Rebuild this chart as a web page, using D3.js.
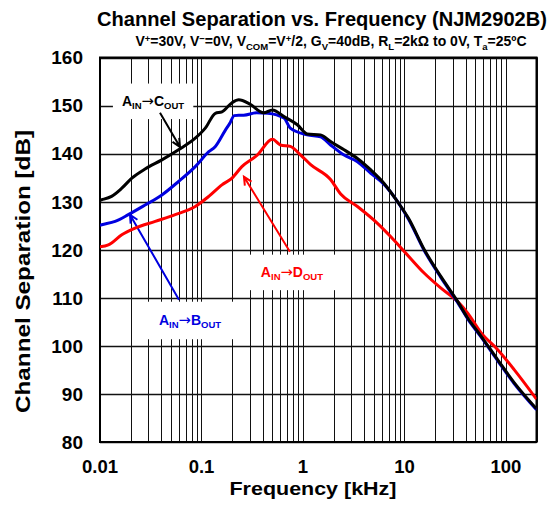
<!DOCTYPE html>
<html><head><meta charset="utf-8">
<script src="https://cdn.jsdelivr.net/npm/d3@7"></script>
<style>body{margin:0;background:#fff}svg{display:block;font-family:"Liberation Sans",Arial,sans-serif}</style>
</head><body><svg id="c" width="557" height="506"></svg>
<script>
// ---- data ----
const freqAC = [0.01,0.0104,0.013,0.0164,0.0206,0.0278,0.0407,0.0594,0.0868,0.109,0.137,0.159,0.2,0.233,0.3,0.41,0.5,0.65,0.88,1.1,1.49,1.87,2.54,3.44,4.66,6.3,8.55,11,15.7,22.9,33.5,42,57,83,121,200];
const sepAC  = [130.3,130.4,131.1,132.8,134.9,136.8,138.7,140.8,143.2,145.3,148.4,148.7,150.6,151.2,150.3,148.5,149.1,147.7,146,144.1,143.9,142.5,140.8,139,136.6,133.8,130,126.5,120,114.4,109.2,105.8,102,97.1,92.3,86.9];
const freqAB = [0.01,0.0104,0.0141,0.019,0.0278,0.0407,0.0594,0.0868,0.118,0.137,0.172,0.19,0.21,0.233,0.26,0.35,0.45,0.65,0.75,1.1,1.49,1.87,2.54,3.44,4.66,6.3,8.55,11,15.7,22.9,33.5,42,57,83,121,200];
const sepAB  = [125.1,125.2,125.9,127.3,129.3,131.4,134.2,137.3,140.4,141.5,144.9,146.3,147.9,148.0,148.0,148.5,148.4,147.4,145.3,143.9,143.5,141.8,139.7,138.3,135.9,133.6,130,126.3,119.8,114.2,109.0,105.6,101.8,96.9,92.1,86.7];
const freqAD = [0.01,0.0121,0.0164,0.0222,0.035,0.0551,0.0868,0.118,0.159,0.2,0.25,0.354,0.5,0.6,0.75,0.95,1.19,1.87,2.35,3.44,5.42,7.34,10.3,15.7,22.9,33.5,42,57,83,121,200];
const sepAD  = [120.6,121.0,123.1,124.5,125.9,127.3,129.0,131.1,133.5,134.9,137.3,139.7,143.0,141.8,141.5,139.7,137.7,134.6,131.6,129.0,125.5,122.7,119.3,115.1,112,109.2,106.8,102.7,99.2,95.0,88.9];
const xTickVals = [0.01,0.1,1,10,100];
const xTickLabels = ["0.01","0.1","1","10","100"];
const yTickVals = [80,90,100,110,120,130,140,150,160];

const svg = d3.select("#c");
const L=100,R=536.5,T=57.5,B=442;
const x = d3.scaleLog().domain([0.01,200]).range([L,R]);
const y = d3.scaleLinear().domain([80,160]).range([B,T]);

// grid
const minor=[];
[0.01,0.1,1,10,100].forEach(d=>{for(let k=1;k<=9;k++){const v=d*k; if(v<=200) minor.push(v);}});
minor.push(200);
const g = svg.append("g");
g.selectAll("line.v").data(minor).join("line")
 .attr("x1",d=>Math.round(x(d))+0.5).attr("x2",d=>Math.round(x(d))+0.5).attr("y1",T).attr("y2",B)
 .attr("stroke","#111").attr("stroke-width",1);
g.selectAll("line.h").data(yTickVals).join("line")
 .attr("y1",d=>Math.round(y(d))+0.5).attr("y2",d=>Math.round(y(d))+0.5).attr("x1",L).attr("x2",R)
 .attr("stroke","#111").attr("stroke-width",1.3);
svg.append("rect").attr("x",L).attr("y",T).attr("width",R-L).attr("height",B-T)
 .attr("fill","none").attr("stroke","#000").attr("stroke-width",2);

// ticks
svg.selectAll("text.yt").data(yTickVals).join("text")
 .attr("x",83).attr("y",d=>y(d)).attr("dy","0.36em").attr("text-anchor","end")
 .attr("font-size",19).attr("font-weight","bold").text(d=>d);
svg.selectAll("text.xt").data(xTickVals).join("text")
 .attr("x",d=>x(d)).attr("y",473).attr("text-anchor","middle")
 .attr("font-size",18.5).attr("font-weight","bold").text((d,i)=>xTickLabels[i]);

// titles
svg.append("text").attr("x",322).attr("y",26).attr("text-anchor","middle")
 .attr("font-size",19.5).attr("font-weight","bold").attr("textLength",450).attr("lengthAdjust","spacingAndGlyphs")
 .text("Channel Separation vs. Frequency (NJM2902B)");
function rich(sel, parts, fs){
  let shift=0;
  parts.forEach(([t,k])=>{
    const ts=sel.append("tspan").text(t);
    let target = k==="sub"?3.5:(k==="sup"?-4:0);
    ts.attr("dy",target-shift); shift=target;
    if(k==="sub"||k==="sup") ts.attr("font-size",fs*0.68);
    if(k==="arr") ts.attr("font-family","DejaVu Sans").attr("font-weight","normal").attr("font-size",fs*1.05);
  });
}
const sub = svg.append("text").attr("x",331).attr("y",46).attr("text-anchor","middle")
 .attr("font-size",14).attr("font-weight","bold");
rich(sub,[["V","n"],["+","sup"],["=30V, V","n"],["−","sup"],["=0V, V","n"],["COM","sub"],["=V","n"],["+","sup"],["/2, G","n"],["V","sub"],["=40dB, R","n"],["L","sub"],["=2kΩ to 0V, T","n"],["a","sub"],["=25ºC","n"]],14);

svg.append("text").attr("x",313).attr("y",495).attr("text-anchor","middle")
 .attr("font-size",18.5).attr("font-weight","bold").attr("textLength",167).attr("lengthAdjust","spacingAndGlyphs")
 .text("Frequency [kHz]");
svg.append("text").attr("transform","translate(30,271.5) rotate(-90)").attr("text-anchor","middle")
 .attr("font-size",20).attr("font-weight","bold").attr("textLength",283).attr("lengthAdjust","spacingAndGlyphs")
 .text("Channel Separation [dB]");

// annotations
const labels=[
 {a:"A",s1:"IN",b:"C",s2:"OUT",f:0.0333,v:150.0,col:"#000",px:9,py:8},
 {a:"A",s1:"IN",b:"B",s2:"OUT",f:0.0771,v:104.4,col:"#0000e0",px:15,py:9},
 {a:"A",s1:"IN",b:"D",s2:"OUT",f:0.779,v:114.4,col:"#ff0000",px:12,py:8}
];
labels.forEach(l=>{
  const t=svg.append("text").attr("x",x(l.f)).attr("y",y(l.v)).attr("text-anchor","middle")
   .attr("font-size",14).attr("font-weight","bold").attr("fill",l.col);
  rich(t,[[l.a,"n"],[l.s1,"sub"],["→","arr"],[l.b,"n"],[l.s2,"sub"]],14);
  const bb=t.node().getBBox();
  svg.insert("rect",()=>t.node()).attr("x",bb.x-l.px).attr("y",bb.y-l.py).attr("width",bb.width+2*l.px).attr("height",bb.height+2*l.py).attr("fill","#fff");
});

const arrows=[
 {f0:0.039,v0:148.5,f1:0.0614,v1:141.4,col:"#000"},
 {f0:0.06,v0:109.6,f1:0.01975,v1:127.3,col:"#0000e0"},
 {f0:0.744,v0:119.6,f1:0.262,v1:135.2,col:"#ff0000"}
];
arrows.forEach(a=>{
  const x0=x(a.f0),y0=y(a.v0),x1=x(a.f1),y1=y(a.v1);
  const ang=Math.atan2(y1-y0,x1-x0),h=9,w=0.45;
  const p=d3.path();
  p.moveTo(x0,y0);p.lineTo(x1,y1);
  p.moveTo(x1-h*Math.cos(ang-w),y1-h*Math.sin(ang-w));p.lineTo(x1,y1);
  p.lineTo(x1-h*Math.cos(ang+w),y1-h*Math.sin(ang+w));
  svg.append("path").attr("d",p.toString()).attr("fill","none").attr("stroke",a.col).attr("stroke-width",2);
});

// curves
const line=d3.line().x(d=>x(d[0])).y(d=>y(d[1])).curve(d3.curveMonotoneX);
const series=[
 {f:freqAD,v:sepAD,col:"#ff0000"},
 {f:freqAB,v:sepAB,col:"#0000e0"},
 {f:freqAC,v:sepAC,col:"#000"}
];
svg.append("clipPath").attr("id","cp").append("rect").attr("x",L).attr("y",T).attr("width",R-L).attr("height",B-T);
series.forEach(s=>{
  svg.append("path").datum(s.f.map((f,i)=>[f,s.v[i]])).attr("d",line)
   .attr("fill","none").attr("stroke",s.col).attr("stroke-width",3).attr("clip-path","url(#cp)");
});
</script></body></html>
